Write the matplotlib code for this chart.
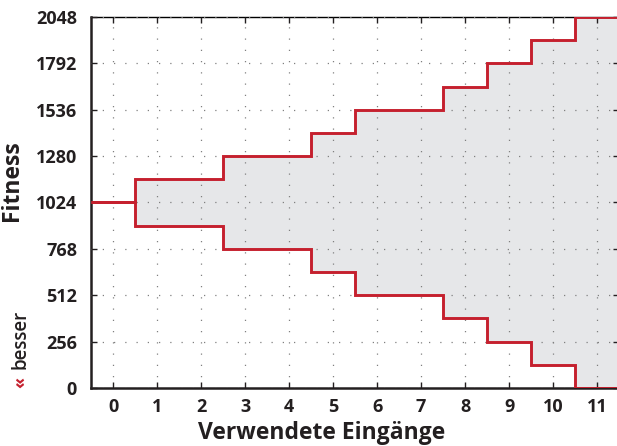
import numpy as np
import matplotlib.pyplot as plt

# number of inputs used and the fitness band (upper / lower bound)
inputs = list(range(12))
upper = [1024, 1152, 1152, 1280, 1280, 1408, 1536, 1536, 1664, 1792, 1920, 2048]
lower = [1024, 896, 896, 768, 768, 640, 512, 512, 384, 256, 128, 0]
yticks = [0, 256, 512, 768, 1024, 1280, 1536, 1792, 2048]

red = "#c5202e"
ink = "#231f20"
plt.rcParams["font.family"] = ["Open Sans", "DejaVu Sans"]

fig = plt.figure(figsize=(6.17, 4.46), dpi=100)
ax = fig.add_axes([0.1475, 0.130, 0.856, 0.832])

edges = np.arange(len(inputs) + 1) - 0.5
ax.stairs(upper, edges, baseline=lower, fill=True, color="#e6e7e9", zorder=1)
ax.stairs(upper, edges, baseline=None, color=red, lw=2.1, zorder=3)
ax.stairs(lower, edges, baseline=None, color=red, lw=2.1, zorder=3)

ax.set_xlim(-0.5, 11.5)
ax.set_ylim(0, 2048)
ax.set_xticks(inputs)
ax.set_yticks(yticks)
ax.tick_params(direction="in", length=4, width=1, top=True, right=True,
               labelsize=13, colors=ink)
ax.tick_params(axis="x", pad=7)
ax.tick_params(axis="y", pad=10)
for lab in ax.get_xticklabels() + ax.get_yticklabels():
    lab.set_fontweight("bold")
ax.grid(True, color="#808080", linestyle=(0, (1, 8)), linewidth=0.9, zorder=2)
ax.set_axisbelow(False)

for side in ("left", "bottom"):
    ax.spines[side].set_linewidth(1.8)
    ax.spines[side].set_color(ink)
ax.spines["top"].set_linewidth(1.0)
ax.spines["right"].set_linewidth(1.0)

ax.set_xlabel("Verwendete Eingänge", fontsize=16.5, fontweight="bold", color=ink)
ax.xaxis.set_label_coords(0.4375, -0.09)
ax.set_ylabel("Fitness", fontsize=16.5, fontweight="bold", color=ink)
ax.yaxis.set_label_coords(-0.127, 0.56)

# "better" hint below the y label
ax.text(-0.134, 0.0, "«", transform=ax.transAxes, rotation=90,
        color=red, fontsize=13, fontweight="bold", ha="center", va="bottom")
ax.text(-0.134, 0.052, "besser", transform=ax.transAxes, rotation=90,
        color=ink, fontsize=13.5, fontweight="semibold", ha="center", va="bottom")

fig.savefig("out.png", dpi=100)
